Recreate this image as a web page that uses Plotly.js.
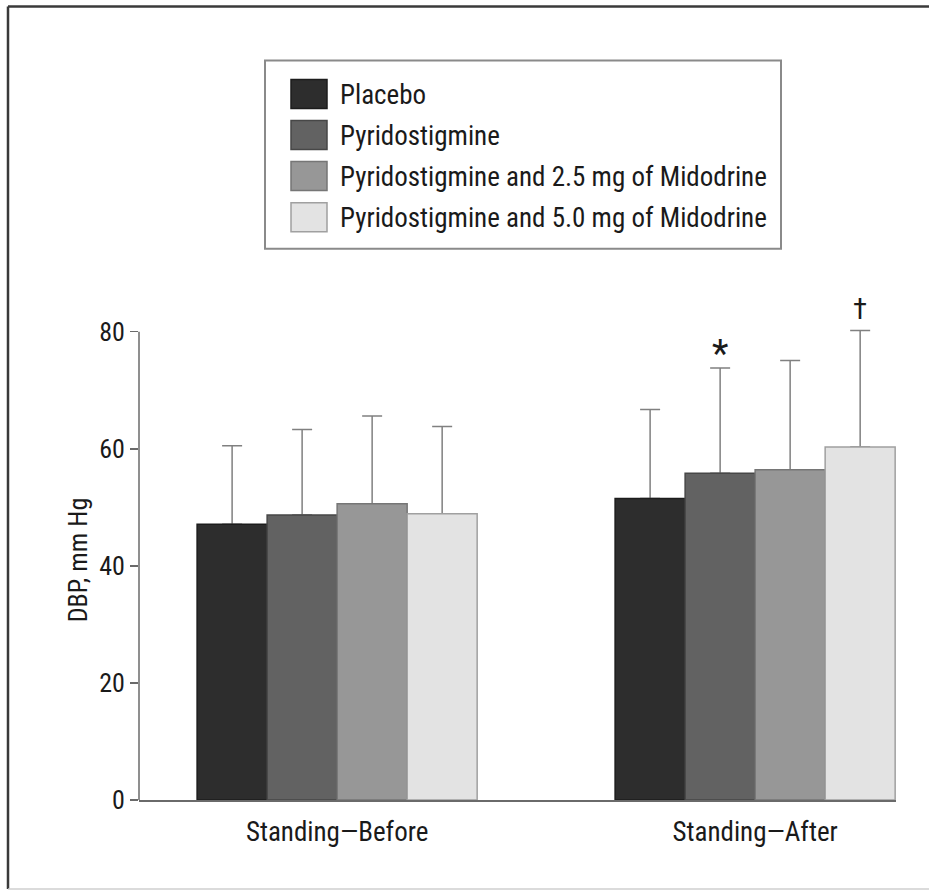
<!DOCTYPE html>
<html>
<head>
<meta charset="utf-8">
<script src="https://cdn.plot.ly/plotly-3.0.1.min.js"></script>
<style>html,body{margin:0;padding:0;background:#fff;}#chart{width:929px;height:891px;}</style>
</head>
<body>
<div id="chart"></div>
<script>
var categories = ['Standing\u2014Before', 'Standing\u2014After'];
var seriesNames = ['Placebo', 'Pyridostigmine', 'Pyridostigmine and 2.5 mg of Midodrine', 'Pyridostigmine and 5.0 mg of Midodrine'];
var placebo = [47.1, 51.5];
var pyridostigmine = [48.7, 55.8];
var midodrine25 = [50.6, 56.4];
var midodrine50 = [48.9, 60.3];
var placeboSD = [13.4, 15.2];
var pyridostigmineSD = [14.6, 18.0];
var midodrine25SD = [15.0, 18.7];
var midodrine50SD = [14.9, 19.9];
var yTicks = [0, 20, 40, 60, 80];
var markers = [{series: 1, category: 1, text: '*'}, {series: 3, category: 1, text: '\u2020'}];

var values = [placebo, pyridostigmine, midodrine25, midodrine50];
var sds = [placeboSD, pyridostigmineSD, midodrine25SD, midodrine50SD];
var fills = ['#2d2d2d', '#626262', '#979797', '#e3e3e3'];
var outlines = ['#1c1c1c', '#474747', '#767676', '#a0a0a0'];

var FONT = '"Liberation Sans Narrow", "Arial Narrow", "Roboto Condensed", "Liberation Sans", Arial, sans-serif';
var bargap = 0.33;
var yAxisTop = 80;     // where the drawn axis line ends
var yRangeTop = 82;    // a little headroom so the top error cap is not clipped
var L = 139, R = 896, B = 800;
var T = B - 468 * yRangeTop / yAxisTop;
function px(x) { return (x - L) / (R - L); }
function py(y) { return (B - y) / (B - T); }

var data = [];
// error bars first (drawn beneath the visible bars)
values.forEach(function (v, i) {
  data.push({
    type: 'bar', x: categories, y: v, offsetgroup: String(i), showlegend: false, hoverinfo: 'skip',
    marker: {color: 'rgba(0,0,0,0)', line: {width: 0}},
    error_y: {type: 'data', symmetric: false, array: sds[i], arrayminus: v.map(function () { return 0; }),
      color: '#808080', thickness: 1.5, width: 10}
  });
});
values.forEach(function (v, i) {
  data.push({
    type: 'bar', x: categories, y: v, name: seriesNames[i], offsetgroup: String(i), showlegend: false,
    marker: {color: fills[i], line: {color: outlines[i], width: 1.5}}
  });
});

var shapes = [
  {type: 'line', xref: 'paper', yref: 'y', x0: 0, x1: 0, y0: 0, y1: yAxisTop, line: {color: '#6a6a6a', width: 1.5}},
  {type: 'line', xref: 'paper', yref: 'paper', x0: px(8), x1: px(935), y0: py(7), y1: py(7), line: {color: '#3a3a3a', width: 2.5}},
  {type: 'line', xref: 'paper', yref: 'paper', x0: px(8), x1: px(8), y0: py(7), y1: py(889), line: {color: '#3a3a3a', width: 2.5}},
  {type: 'line', xref: 'paper', yref: 'paper', x0: px(8), x1: px(935), y0: py(889), y1: py(889), line: {color: '#cfcfcf', width: 1.5}},
  {type: 'rect', xref: 'paper', yref: 'paper', x0: px(265), x1: px(781), y0: py(61), y1: py(249), line: {color: '#8a8a8a', width: 2}, fillcolor: 'rgba(0,0,0,0)'}
];
var annotations = [];
seriesNames.forEach(function (name, i) {
  var top = 80 + i * 41;
  shapes.push({type: 'rect', xref: 'paper', yref: 'paper', x0: px(291), x1: px(327), y0: py(top), y1: py(top + 29),
    fillcolor: fills[i], line: {color: outlines[i], width: 1.5}});
  annotations.push({xref: 'paper', yref: 'paper', x: px(338), y: py(top + 15), xanchor: 'left', yanchor: 'middle',
    text: name, showarrow: false, font: {family: FONT, size: 27, color: '#1a1a1a'}});
});
var slot = (1 - bargap) / values.length;
markers.forEach(function (m) {
  var off = -(1 - bargap) / 2 + slot * (m.series + 0.5);
  var isStar = m.text === '*';
  annotations.push({xref: 'x', yref: 'y', x: m.category + off,
    y: values[m.series][m.category] + sds[m.series][m.category],
    xanchor: 'center', yanchor: 'bottom', text: m.text, showarrow: false,
    yshift: isStar ? -10 : 3,
    font: {family: FONT, size: isStar ? 38 : 29, color: '#1a1a1a'}});
});

var layout = {
  width: 929, height: 891, autosize: false,
  margin: {l: L, r: 929 - R, t: T, b: 891 - B, pad: 0},
  paper_bgcolor: '#ffffff', plot_bgcolor: '#ffffff',
  barmode: 'group', bargap: bargap, bargroupgap: 0,
  showlegend: false,
  font: {family: FONT, size: 26, color: '#1a1a1a'},
  xaxis: {type: 'category', range: [-0.474, 1.337], showline: true, linecolor: '#6a6a6a', linewidth: 1.5,
    ticks: '', showgrid: false, zeroline: false, ticklabelstandoff: 7,
    tickfont: {family: FONT, size: 27, color: '#1a1a1a'}},
  yaxis: {range: [0, yRangeTop], tickvals: yTicks, ticktext: yTicks.map(String), ticks: 'outside', ticklen: 8, tickwidth: 1.5,
    tickcolor: '#6a6a6a', showline: false, showgrid: false, zeroline: false,
    tickfont: {family: FONT, size: 26, color: '#1a1a1a'},
    title: {text: 'DBP, mm Hg', font: {family: FONT, size: 26, color: '#1a1a1a'}, standoff: 4}},
  shapes: shapes,
  annotations: annotations
};
Plotly.newPlot('chart', data, layout, {displayModeBar: false, staticPlot: true});
</script>
</body>
</html>
